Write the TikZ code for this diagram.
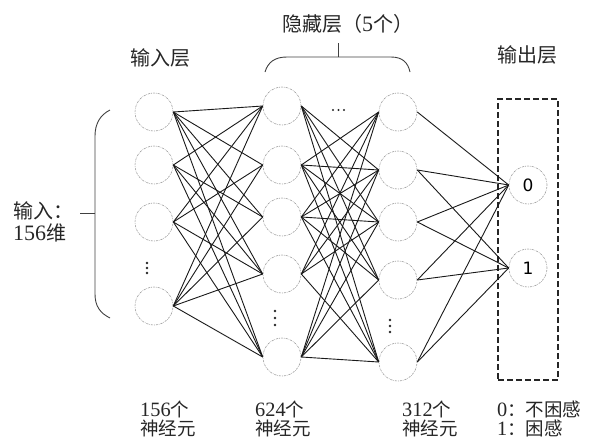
\documentclass[tikz,border=0pt]{standalone}
\usepackage{fontspec}
\setmainfont{Noto Sans CJK SC}
\newfontfamily\lat[Scale=1.1]{Liberation Serif}
\newfontfamily\numfont{DejaVu Sans}
\begin{document}
\begin{tikzpicture}[x=1pt,y=-1pt,
  neuron/.style={circle, draw=gray!75, dash pattern=on 2.2pt off 1pt on 0.6pt off 1pt, line width=0.6pt, minimum size=38pt, inner sep=0pt, font=\numfont\fontsize{17}{17}\selectfont},
  conn/.style={line width=0.9pt, black!90},
  lbl/.style={font=\fontsize{20}{20}\selectfont, text=black!85, inner sep=0pt, align=left},
  botlbl/.style={font=\fontsize{18.5}{19}\selectfont, text=black!85, inner sep=0pt, anchor=base west},
  bracestyle/.style={line width=0.9pt, black!75},
  dotmark/.style={fill=black!85}]
\useasboundingbox (0,0) rectangle (595,440);

% input layer
\node[neuron] (i1) at (154,112) {};
\node[neuron] (i2) at (154,165) {};
\node[neuron] (i3) at (154,222) {};
\node[neuron] (i4) at (154,306) {};
% hidden layer 1
\node[neuron] (a1) at (282,106) {};
\node[neuron] (a2) at (282,165) {};
\node[neuron] (a3) at (282,217) {};
\node[neuron] (a4) at (282,274) {};
\node[neuron] (a5) at (282,357) {};
% hidden layer 2
\node[neuron] (b1) at (398,112) {};
\node[neuron] (b2) at (398,170) {};
\node[neuron] (b3) at (398,222) {};
\node[neuron] (b4) at (398,280) {};
\node[neuron] (b5) at (398,362) {};
% output layer
\node[neuron] (o0) at (528,185) {0};
\node[neuron] (o1) at (528,268) {1};

% output box
\node[draw=black!85, dash pattern=on 6pt off 3pt, line width=1.3pt, minimum width=60pt, minimum height=281pt, inner sep=0pt] (obox) at (528,239.5) {};

% connections input -> hidden1
\foreach \i in {1,...,4}{
  \foreach \j in {1,...,5}{
    \ifnum\i=\j
      \ifnum\i=1 \draw[conn] (i\i.east) -- (a\j.west);\fi
      \ifnum\i=4 \draw[conn] (i\i.east) -- (a\j.west);\fi
    \else
      \draw[conn] (i\i.east) -- (a\j.west);
    \fi
  }
}
% hidden1 -> hidden2
\foreach \i in {1,...,5}{
  \foreach \j in {1,...,5}{
    \ifnum\i=\j
      \ifnum\i=2 \draw[conn] (a\i.east) -- (b\j.west);\fi
      \ifnum\i=3 \draw[conn] (a\i.east) -- (b\j.west);\fi
      \ifnum\i=5 \draw[conn] (a\i.east) -- (b\j.west);\fi
    \else
      \draw[conn] (a\i.east) -- (b\j.west);
    \fi
  }
}
% hidden2 -> output
\foreach \i in {1,...,5}{
  \draw[conn] (b\i.east) -- (o0.west);
}
\foreach \i in {2,...,5}{
  \draw[conn] (b\i.east) -- (o1.west);
}

% vertical dots
\foreach \y in {263,268,273} \fill[dotmark] (147,\y) circle (1.4);
\foreach \y in {311,318,325} \fill[dotmark] (275,\y) circle (1.4);
\foreach \y in {320,326,332} \fill[dotmark] (390,\y) circle (1.4);
% horizontal dots
\foreach \x in {333,338.5,344} \fill[dotmark] (\x,110) circle (1.2);

% left brace
\draw[bracestyle] (110,110) .. controls (100,115) and (95,124) .. (95,136) -- (95,294) .. controls (95,306) and (100,313) .. (110,318);
\draw[bracestyle] (95,213) -- (80,213);
% top brace
\draw[bracestyle] (265,72) .. controls (268,62) and (275,57) .. (287,57) -- (391,57) .. controls (403,57) and (408,63) .. (410,72);
\draw[bracestyle] (338,57) -- (338,43);

% labels
\node[lbl, anchor=west] (tin) at (130,58) {输入层};
\node[lbl, anchor=west] (thid) at (282,24) {隐藏层（{\lat 5}个）};
\node[lbl, anchor=west] (tout) at (497,55) {输出层};
\node[lbl, anchor=west] (tinput) at (13,211) {输入：};
\node[lbl, anchor=west] (tdim) at (13,233) {{\lat 156}维};
% bottom labels
\node[botlbl] (n1a) at (140,416) {{\lat 156}个};
\node[botlbl] (n1b) at (140,435) {神经元};
\node[botlbl] (n2a) at (255,416) {{\lat 624}个};
\node[botlbl] (n2b) at (255,435) {神经元};
\node[botlbl] (n3a) at (402,416) {{\lat 312}个};
\node[botlbl] (n3b) at (402,435) {神经元};
\node[botlbl] (n4a) at (497,416) {{\lat 0}：不困感};
\node[botlbl] (n4b) at (497,435) {{\lat 1}：困感};
\end{tikzpicture}
\end{document}
